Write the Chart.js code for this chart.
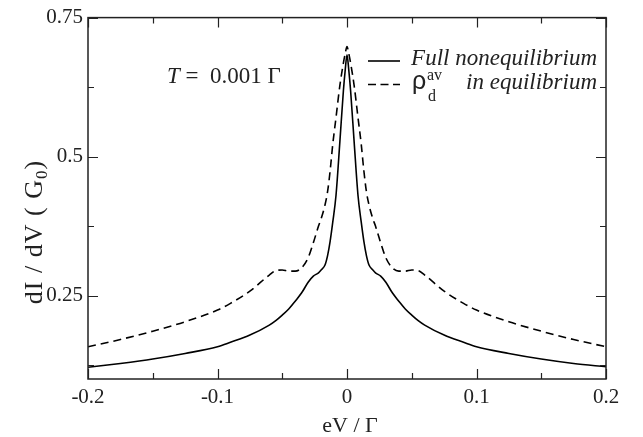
<!DOCTYPE html>
<html lang="en">

<head>
  <meta charset="UTF-8">
  <title>dI/dV</title>
  <style>
    body { margin: 0; background: #fff; }
  </style>
</head>

<body>

  <canvas id="graficoDIDV" width="643" height="437"></canvas>

  <script src="https://cdn.jsdelivr.net/npm/chart.js"></script>

  <script>

    // eV / Gamma
    const eV = [-0.2, -0.175, -0.15, -0.125, -0.1, -0.09, -0.075, -0.06, -0.055, -0.05, -0.045, -0.04, -0.035,
      -0.03, -0.026, -0.022, -0.02, -0.017, -0.015, -0.013, -0.011, -0.0085, -0.0055, -0.0028, -0.0014, 0,
      0.0014, 0.0028, 0.0055, 0.0085, 0.011, 0.013, 0.015, 0.017, 0.02, 0.022, 0.026, 0.03,
      0.035, 0.04, 0.045, 0.05, 0.055, 0.06, 0.075, 0.09, 0.1, 0.125, 0.15, 0.175, 0.2];

    // Full nonequilibrium (linha cheia)
    const fullNoneq = [0.121, 0.128, 0.136, 0.146, 0.158, 0.166, 0.179, 0.197, 0.205, 0.215, 0.226, 0.240, 0.255,
      0.274, 0.285, 0.291, 0.296, 0.305, 0.322, 0.348, 0.382, 0.430, 0.527, 0.618, 0.655, 0.683,
      0.655, 0.618, 0.527, 0.430, 0.382, 0.348, 0.322, 0.305, 0.296, 0.291, 0.285, 0.274,
      0.255, 0.240, 0.226, 0.215, 0.205, 0.197, 0.179, 0.166, 0.158, 0.146, 0.136, 0.128, 0.122];

    // rho_d^av in equilibrium (tracejada)
    const rhoEq = [0.158, 0.171, 0.186, 0.203, 0.224, 0.236, 0.258, 0.287, 0.295, 0.296, 0.294, 0.294, 0.300,
      0.318, 0.345, 0.375, 0.388, 0.413, 0.437, 0.475, 0.522, 0.570, 0.628, 0.668, 0.685, 0.698,
      0.685, 0.668, 0.628, 0.570, 0.522, 0.475, 0.437, 0.413, 0.388, 0.375, 0.345, 0.318,
      0.300, 0.294, 0.294, 0.296, 0.295, 0.287, 0.258, 0.236, 0.224, 0.203, 0.186, 0.171, 0.158];

    const xTicks = [-0.2, -0.15, -0.1, -0.05, 0, 0.05, 0.1, 0.15, 0.2];
    const xLabels = [-0.2, -0.1, 0, 0.1, 0.2];
    const yTicks = [0.125, 0.25, 0.375, 0.5, 0.625, 0.75];
    const yLabels = [0.25, 0.5, 0.75];

    const serif = "'Liberation Serif', 'Times New Roman', serif";
    const cor = '#222';

    function temLabel(lista, v) {
      return lista.some(l => Math.abs(l - v) < 1e-6);
    }

    // moldura, ticks para dentro, titulos e legenda
    const molduraPlugin = {
      id: 'moldura',
      afterDraw(chart) {
        const c = chart.ctx;
        const a = chart.chartArea;
        const sx = chart.scales.x;
        const sy = chart.scales.y;
        c.save();
        c.strokeStyle = cor;
        c.lineWidth = 1.5;
        c.strokeRect(a.left, a.top, a.right - a.left, a.bottom - a.top);

        c.lineWidth = 1.2;
        c.beginPath();
        xTicks.forEach(v => {
          const px = Math.round(sx.getPixelForValue(v)) + 0.5;
          const len = temLabel(xLabels, v) ? 10 : 6;
          c.moveTo(px, a.bottom); c.lineTo(px, a.bottom - len);
          c.moveTo(px, a.top); c.lineTo(px, a.top + len);
        });
        yTicks.forEach(v => {
          const py = Math.round(sy.getPixelForValue(v)) + 0.5;
          const len = temLabel(yLabels, v) ? 10 : 6;
          c.moveTo(a.left, py); c.lineTo(a.left + len, py);
          c.moveTo(a.right, py); c.lineTo(a.right - len, py);
        });
        c.stroke();

        c.fillStyle = cor;
        c.textBaseline = 'alphabetic';

        // titulo eixo x
        c.font = '22px ' + serif;
        c.textAlign = 'center';
        c.fillText('eV / \u0393', (a.left + a.right) / 2 + 3, 432);

        // titulo eixo y
        c.save();
        c.translate(42, 232);
        c.rotate(-Math.PI / 2);
        c.textAlign = 'left';
        c.letterSpacing = '1px';
        const p1 = 'dI / dV ( G';
        const p2 = '0';
        const p3 = ')';
        c.font = '26px ' + serif;
        const w1 = c.measureText(p1).width;
        const w3 = c.measureText(p3).width;
        c.font = '17px ' + serif;
        const w2 = c.measureText(p2).width;
        let x0 = -(w1 + w2 + w3) / 2;
        c.font = '26px ' + serif;
        c.fillText(p1, x0, 0);
        c.font = '17px ' + serif;
        c.fillText(p2, x0 + w1, 5);
        c.font = '26px ' + serif;
        c.fillText(p3, x0 + w1 + w2, 0);
        c.restore();

        // anotacao T = 0.001 Gamma
        c.textAlign = 'left';
        c.font = 'italic 23px ' + serif;
        c.fillText('T', 167, 83);
        const wT = c.measureText('T').width;
        c.font = '23px ' + serif;
        c.fillText(' =  0.001 \u0393', 167 + wT, 83);

        // legenda
        c.lineWidth = 1.6;
        c.strokeStyle = '#000';
        c.beginPath();
        c.moveTo(368, 61); c.lineTo(400, 61);
        c.stroke();
        c.setLineDash([8, 4.5]);
        c.beginPath();
        c.moveTo(368, 84.5); c.lineTo(400, 84.5);
        c.stroke();
        c.setLineDash([]);

        c.textAlign = 'right';
        c.font = 'italic 23px ' + serif;
        c.fillText('Full nonequilibrium', 597, 65);
        c.fillText('in equilibrium', 597, 89);

        c.textAlign = 'left';
        c.font = "25px 'Liberation Sans', Arial, sans-serif";
        c.fillText('\u03C1', 412, 89);
        c.font = '16px ' + serif;
        c.fillText('av', 427, 80);
        c.fillText('d', 428, 101);
        c.restore();
      }
    };

    const ctx = document.getElementById('graficoDIDV');

    const grafico = new Chart(ctx, {
      type: 'line',
      data: {
        datasets: [
          {
            label: 'Full nonequilibrium',
            data: eV.map((x, i) => ({ x: x, y: fullNoneq[i] })),
            borderColor: '#000',
            borderWidth: 1.6,
            pointRadius: 0,
            cubicInterpolationMode: 'monotone',
            fill: false
          },
          {
            label: 'rho_d^av in equilibrium',
            data: eV.map((x, i) => ({ x: x, y: rhoEq[i] })),
            borderColor: '#000',
            borderWidth: 1.6,
            borderDash: [8, 5],
            pointRadius: 0,
            cubicInterpolationMode: 'monotone',
            fill: false
          }
        ]
      },
      options: {
        responsive: false,
        devicePixelRatio: 1,
        animation: false,
        layout: { padding: { top: 16, right: 37, left: 0, bottom: 0 } },
        plugins: {
          legend: { display: false },
          tooltip: { enabled: false }
        },
        scales: {
          x: {
            type: 'linear',
            min: -0.2,
            max: 0.2,
            afterBuildTicks: (s) => { s.ticks = xTicks.map(v => ({ value: v })); },
            afterFit: (s) => { s.height = 58; },
            grid: { display: false, drawTicks: false },
            border: { display: false },
            ticks: {
              autoSkip: false,
              maxRotation: 0,
              padding: 6,
              color: cor,
              font: { family: serif, size: 21 },
              callback: (v) => temLabel(xLabels, v) ? String(Math.round(v * 10) / 10) : ''
            }
          },
          y: {
            type: 'linear',
            min: 0.1,
            max: 0.75,
            afterBuildTicks: (s) => { s.ticks = yTicks.map(v => ({ value: v })); },
            afterFit: (s) => { s.width = 88; },
            grid: { display: false, drawTicks: false },
            border: { display: false },
            ticks: {
              autoSkip: false,
              padding: 5,
              color: cor,
              font: { family: serif, size: 21 },
              callback: (v) => temLabel(yLabels, v) ? String(Math.round(v * 100) / 100) : ''
            }
          }
        }
      },
      plugins: [molduraPlugin]
    });

  </script>
</body>

</html>
